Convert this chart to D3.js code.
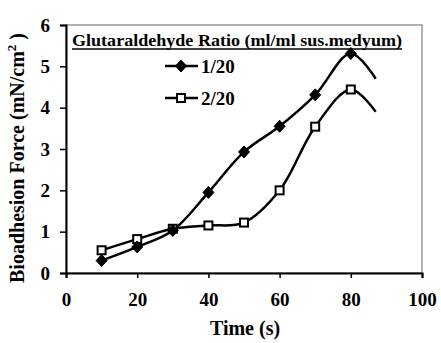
<!DOCTYPE html>
<html>
<head>
<meta charset="utf-8">
<script src="https://cdn.jsdelivr.net/npm/d3@7"></script>
<style>
  body { margin: 0; background: #fff; }
</style>
</head>
<body>
<div id="chart"></div>
<script>
// time points (s); last point of each series is the curve tail, drawn without marker
var time = [10, 20, 30, 40, 50, 60, 70, 80, 87];
var ratio1 = [0.3, 0.63, 1.03, 1.95, 2.93, 3.55, 4.31, 5.31, 4.7];
var ratio2 = [0.55, 0.82, 1.07, 1.15, 1.22, 2.0, 3.54, 4.44, 3.9];
var seriesNames = ["1/20", "2/20"];
var xTicks = [0, 20, 40, 60, 80, 100];
var yTicks = [0, 1, 2, 3, 4, 5, 6];

var width = 441, height = 343;
var margin = { top: 25, left: 66, right: 19, bottom: 70 };
var serif = "'Times New Roman', 'Liberation Serif', serif";

var x = d3.scaleLinear().domain([0, 100]).range([margin.left, width - margin.right]);
var y = d3.scaleLinear().domain([0, 6]).range([height - margin.bottom, margin.top]);

var svg = d3.select("#chart").append("svg")
    .attr("width", width)
    .attr("height", height)
    .style("font-family", serif);

// plot frame
svg.append("rect")
    .attr("x", x(0)).attr("y", y(6))
    .attr("width", x(100) - x(0)).attr("height", y(0) - y(6))
    .attr("fill", "none")
    .attr("stroke", "#666")
    .attr("stroke-width", 1);

var xAxis = svg.append("g")
    .attr("transform", "translate(0," + y(0) + ")")
    .call(d3.axisBottom(x).tickValues(xTicks).tickFormat(d3.format("d")).tickSize(5).tickPadding(15));
var yAxis = svg.append("g")
    .attr("transform", "translate(" + x(0) + ",0)")
    .call(d3.axisLeft(y).tickValues(yTicks).tickFormat(d3.format("d")).tickSize(6).tickPadding(10));

[xAxis, yAxis].forEach(function(a) {
    a.attr("font-family", null).attr("font-size", 19).attr("font-weight", "bold");
    a.select(".domain").attr("stroke", "#000").attr("stroke-width", 2);
    a.selectAll(".tick line").attr("stroke", "#000").attr("stroke-width", 1.5);
    a.selectAll(".tick text").attr("fill", "#000");
});

var line = d3.line()
    .x(function(d) { return x(d[0]); })
    .y(function(d) { return y(d[1]); })
    .curve(d3.curveCatmullRom.alpha(0.5));

function pts(vals) {
    return time.map(function(t, i) { return [t, vals[i]]; });
}

var s1 = pts(ratio1), s2 = pts(ratio2);

svg.append("path").datum(s2)
    .attr("d", line).attr("fill", "none").attr("stroke", "#000").attr("stroke-width", 2.5);
svg.append("path").datum(s1)
    .attr("d", line).attr("fill", "none").attr("stroke", "#000").attr("stroke-width", 2.5);

function drawDiamond(g, cx, cy) {
    g.append("path")
        .attr("d", "M0,-6L5.5,0L0,6L-5.5,0Z")
        .attr("transform", "translate(" + cx + "," + cy + ")")
        .attr("fill", "#000")
        .attr("stroke", "#000")
        .attr("stroke-width", 1);
}
function drawSquare(g, cx, cy) {
    g.append("rect")
        .attr("x", cx - 4).attr("y", cy - 4)
        .attr("width", 8).attr("height", 8)
        .attr("fill", "#fff")
        .attr("stroke", "#000")
        .attr("stroke-width", 2);
}

var marks = svg.append("g");
s2.slice(0, 8).forEach(function(d) { drawSquare(marks, x(d[0]), y(d[1])); });
s1.slice(0, 8).forEach(function(d) { drawDiamond(marks, x(d[0]), y(d[1])); });

// legend
var leg = svg.append("g");
leg.append("text")
    .attr("x", 72).attr("y", 46)
    .attr("font-size", 17)
    .attr("font-weight", "bold")
    .attr("textLength", 330)
    .attr("lengthAdjust", "spacingAndGlyphs")
    .text("Glutaraldehyde Ratio (ml/ml sus.medyum)");
leg.append("line")
    .attr("x1", 72).attr("x2", 402)
    .attr("y1", 49).attr("y2", 49)
    .attr("stroke", "#000").attr("stroke-width", 1.5);

var legY = [66, 98];
seriesNames.forEach(function(name, i) {
    leg.append("line")
        .attr("x1", 165).attr("x2", 198)
        .attr("y1", legY[i]).attr("y2", legY[i])
        .attr("stroke", "#000").attr("stroke-width", 2.5);
    if (i === 0) drawDiamond(leg, 181, legY[i]);
    else drawSquare(leg, 181, legY[i]);
    leg.append("text")
        .attr("x", 201).attr("y", legY[i] + 7)
        .attr("font-size", 19)
        .attr("font-weight", "bold")
        .text(name);
});

// axis titles
svg.append("text")
    .attr("x", 245).attr("y", 335)
    .attr("text-anchor", "middle")
    .attr("font-weight", "bold")
    .attr("font-size", 20)
    .text("Time (s)");

var yt = svg.append("text")
    .attr("transform", "translate(24,158) rotate(-90)")
    .attr("text-anchor", "middle")
    .attr("font-weight", "bold")
    .attr("font-size", 20);
yt.append("tspan").text("Bioadhesion Force (mN/cm");
yt.append("tspan").attr("dy", -8).attr("font-size", 13).text("2");
yt.append("tspan").attr("dy", 8).text(" )");
</script>
</body>
</html>
